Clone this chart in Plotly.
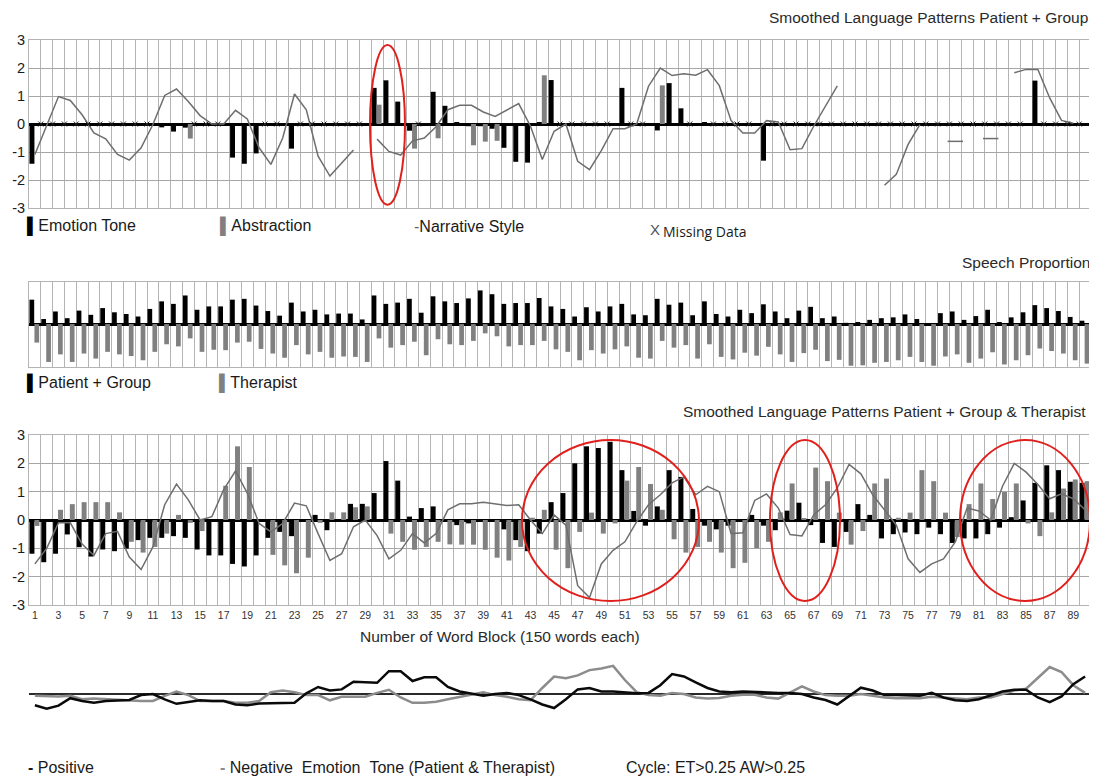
import plotly.graph_objects as go

# ---------------- data ----------------
blocks = list(range(1, 91))
y_ticks = [-3, -2, -1, 0, 1, 2, 3]
x_tick_labels = list(range(1, 90, 2))

# Panel 1: Smoothed Language Patterns Patient + Group
emotion_tone = [
    -1.42, None, None, None, None, None, None, None, None, None,
    None, -0.12, -0.27, -0.13, None, None, None, -1.20, -1.42, -1.05,
    None, None, -0.88, None, None, None, None, None, None, 1.29,
    1.56, 0.80, -0.24, None, 1.15, 0.65, 0.06, -0.08, -0.08, -0.17,
    -0.85, -1.35, -1.38, 0.07, 1.57, None, None, None, None, None,
    1.29, None, None, -0.23, 1.46, 0.56, None, 0.07, None, None,
    None, None, -1.31, None, None, None, None, None, None, None,
    None, None, None, None, None, None, None, None, None, None,
    None, None, None, None, None, 1.55, None, None, None, None,
]
abstraction = [
    None, None, None, None, None, None, None, None, None, None,
    None, None, None, -0.52, None, None, None, None, None, None,
    None, None, None, None, None, None, None, None, None, 0.69,
    None, None, -0.88, None, -0.51, None, None, -0.76, -0.63, -0.60,
    None, None, None, 1.74, None, None, None, None, None, None,
    None, None, None, 1.38, None, None, None, None, None, None,
    None, None, None, None, None, None, None, None, None, None,
    None, None, None, None, None, None, None, None, None, None,
    None, None, None, None, None, None, None, None, None, None,
]
narrative_style = [
    -1.09, -0.05, 0.98, 0.84, 0.33, -0.32, -0.53, -1.09, -1.29, -0.85,
    -0.02, 1.02, 1.25, 0.80, 0.30, 0.00, 0.00, 0.49, 0.18, -0.85,
    -1.44, -0.50, 1.07, 0.51, -1.15, -1.86, -1.38, -0.93, None, -0.54,
    -0.98, -1.11, -0.60, -0.50, -0.10, 0.51, 0.67, 0.67, 0.43, 0.27,
    0.51, 0.73, -0.08, -1.27, -0.26, 0.00, -1.33, -1.63, -0.95, -0.17,
    -0.17, 0.00, 1.35, 2.00, 1.73, 1.79, 1.74, 1.94, 1.37, 0.12,
    -0.32, -0.32, 0.12, 0.07, -0.92, -0.88, -0.08, 0.66, 1.36, None,
    None, None, -2.19, -1.80, -0.73, -0.02, None, None, -0.62, None,
    None, -0.52, None, 1.83, 1.95, 1.95, 0.93, 0.13, 0.03, None,
]

# Panel 2: Speech Proportion
speech_patient = [
    0.58, 0.12, 0.30, 0.14, 0.32, 0.22, 0.38, 0.28, 0.24, 0.18,
    0.36, 0.54, 0.48, 0.68, 0.34, 0.42, 0.42, 0.58, 0.60, 0.44,
    0.31, 0.20, 0.51, 0.30, 0.34, 0.23, 0.25, 0.25, 0.11, 0.68,
    0.48, 0.51, 0.60, 0.27, 0.66, 0.54, 0.50, 0.61, 0.80, 0.71,
    0.48, 0.50, 0.50, 0.62, 0.42, 0.36, 0.18, 0.40, 0.30, 0.42,
    0.48, 0.23, 0.21, 0.60, 0.46, 0.51, 0.21, 0.54, 0.24, 0.18,
    0.34, 0.26, 0.47, 0.30, 0.14, 0.32, 0.41, 0.14, 0.18, 0.03,
    0.05, 0.10, 0.14, 0.16, 0.23, 0.12, 0.02, 0.26, 0.30, 0.10,
    0.19, 0.34, 0.05, 0.16, 0.28, 0.45, 0.38, 0.31, 0.17, 0.08,
]
speech_therapist = [
    0.44, 0.90, 0.72, 0.90, 0.70, 0.82, 0.66, 0.72, 0.76, 0.86,
    0.66, 0.48, 0.53, 0.34, 0.66, 0.61, 0.62, 0.44, 0.42, 0.59,
    0.70, 0.80, 0.50, 0.72, 0.66, 0.80, 0.77, 0.78, 0.90, 0.34,
    0.56, 0.50, 0.42, 0.74, 0.36, 0.48, 0.50, 0.40, 0.22, 0.29,
    0.53, 0.50, 0.50, 0.40, 0.60, 0.66, 0.86, 0.62, 0.70, 0.60,
    0.53, 0.80, 0.82, 0.40, 0.56, 0.50, 0.82, 0.48, 0.78, 0.84,
    0.68, 0.75, 0.54, 0.72, 0.90, 0.69, 0.61, 0.88, 0.85, 0.99,
    0.98, 0.92, 0.90, 0.86, 0.78, 0.90, 0.99, 0.77, 0.72, 0.92,
    0.82, 0.67, 0.96, 0.86, 0.74, 0.58, 0.64, 0.70, 0.86, 0.94,
]

# Panel 3: Smoothed Language Patterns Patient + Group & Therapist
tone_patient = [
    -1.19, -1.49, -1.19, -0.51, -0.96, -1.29, -1.04, -1.10, -1.01, -0.71,
    -0.63, -0.63, -0.57, -0.63, -1.04, -1.25, -1.25, -1.55, -1.64, -1.25,
    -0.63, -0.42, -0.57, None, 0.18, -0.36, None, 0.57, 0.57, 0.95,
    2.08, 1.39, 0.12, 0.42, 0.48, None, -0.18, -0.12, None, None,
    -0.33, -0.71, -1.10, -0.48, 0.63, 0.95, 2.00, 2.60, 2.54, 2.76,
    1.76, 0.32, -0.20, 0.48, 1.76, 1.52, 0.39, -0.20, -0.33, -0.20,
    None, 0.18, -0.20, -0.36, 0.33, 0.61, -0.18, -0.81, -0.95, -0.42,
    0.56, 0.18, -0.65, -0.50, -0.44, -0.50, -0.27, -0.50, -0.81, -0.65,
    -0.65, -0.50, -0.27, 0.10, 0.69, 1.31, 1.93, 1.76, 1.35, 1.31,
]
tone_therapist = [
    -0.21, None, 0.36, 0.56, 0.63, 0.63, 0.63, 0.27, -0.77, -1.15,
    -0.95, -0.48, 0.18, -0.10, -0.39, None, 1.21, 2.60, 1.87, None,
    -1.23, -1.60, -1.88, -1.33, -0.10, 0.27, 0.27, 0.45, 0.48, None,
    -0.48, -0.77, -1.05, -0.95, -0.77, -0.86, -0.87, -0.87, -1.05, -1.33,
    -1.43, -0.95, 0.08, 0.36, -1.05, -1.70, -0.42, 0.26, -0.48, -0.12,
    1.39, 1.87, 1.27, 0.36, -0.68, -1.15, -0.95, -0.77, -1.15, -1.70,
    -1.51, -0.99, -0.77, 0.27, 1.29, 0.04, 1.85, 1.37, 0.26, -0.87,
    -0.39, 1.29, 1.46, 0.08, 0.26, 1.76, 1.37, 0.26, -0.60, 0.56,
    1.29, 0.74, 0.99, 1.29, -0.12, -0.57, 0.27, 1.11, 1.43, 1.37,
]
narrative_both = [
    -1.55, -1.00, -0.10, -0.10, -0.85, -1.25, -0.48, -0.40, -1.31, -1.75,
    -0.95, 0.54, 1.27, 0.71, 0.00, 0.12, 1.07, 1.73, 0.95, -0.12,
    -0.42, -0.12, 0.60, 0.50, -0.48, -1.43, -1.19, -0.24, 0.00, -0.55,
    -1.37, -1.07, -0.48, -0.81, -0.48, 0.36, 0.57, 0.57, 0.63, 0.57,
    0.51, 0.54, 0.00, -0.48, 0.18, -0.18, -2.32, -2.74, -1.55, -1.07,
    -0.77, -0.06, 0.54, 0.89, 1.31, 1.52, 0.89, 1.19, 1.00, -0.48,
    -0.45, 0.69, 0.92, 0.42, -0.51, -0.56, 0.18, 0.54, 1.13, 1.96,
    1.63, 0.89, 0.36, -0.18, -1.37, -1.85, -1.55, -1.37, -0.77, 0.42,
    0.32, 0.00, 1.19, 2.00, 1.69, 1.25, 0.75, 0.92, 0.75, 0.36,
]

# Panel 4: Positive / Negative Emotion Tone (Patient & Therapist)
positive_tone = [
    -1.12, -1.47, -1.16, -0.42, -0.70, -0.88, -0.70, -0.63, -0.60, -0.11,
    0.00, -0.53, -0.98, -0.81, -0.63, -0.70, -0.70, -1.05, -1.12, -0.95,
    -0.95, -0.95, -0.88, 0.07, 0.70, 0.35, 0.46, 1.23, 1.19, 1.12,
    2.28, 2.28, 1.30, 1.68, 1.68, 0.70, 0.25, 0.00, -0.18, 0.00,
    0.11, -0.11, -0.53, -1.05, -1.40, -0.53, 0.46, 0.60, 0.25, 0.25,
    0.18, 0.07, 0.11, 0.88, 2.00, 1.75, 1.16, 0.60, 0.25, 0.18,
    0.25, 0.18, 0.18, 0.11, 0.11, 0.00, -0.35, -0.60, -1.05, -0.18,
    0.63, 0.35, -0.11, -0.11, -0.11, -0.18, 0.11, -0.35, -0.63, -0.70,
    -0.53, -0.11, 0.25, 0.42, 0.42, -0.35, -0.81, -0.25, 0.98, 1.75,
]
negative_tone = [
    -0.18, -0.25, -0.25, -0.18, -0.53, -0.46, -0.53, -0.63, -0.70, -0.70,
    -0.70, -0.18, 0.25, -0.11, -0.70, -0.70, -0.70, -0.88, -0.88, -0.70,
    0.18, 0.35, 0.18, -0.11, -0.11, -0.63, -0.28, -0.28, -0.28, 0.11,
    0.42, -0.35, -0.88, -0.88, -0.77, -0.53, -0.28, 0.00, 0.18, -0.11,
    -0.28, -0.53, -0.63, 0.60, 1.75, 1.58, 1.86, 2.39, 2.56, 2.81,
    1.40, 0.18, -0.11, -0.18, 0.11, 0.00, -0.35, -0.46, -0.39, -0.18,
    -0.07, -0.07, -0.35, -0.46, 0.18, 0.77, 0.25, -0.11, -0.18, -0.18,
    0.00, -0.18, -0.35, -0.42, -0.42, -0.42, -0.28, -0.35, -0.46, -0.53,
    -0.35, -0.35, 0.00, 0.35, 0.53, 1.65, 2.70, 2.20, 0.88, 0.11,
]

# ---------------- layout helpers ----------------
# the page body adds an 8px margin; build the figure so that it lands on the 1097x779 frame
OFF = 8
W, H = 1097 - OFF, 779 - OFF
PLOT_LEFT, PLOT_RIGHT = 29, 1091          # screen pixels of the plotting area
ML = PLOT_LEFT - OFF
MR = W - (PLOT_RIGHT - OFF)
PW = W - ML - MR


def px_x(sx):
    return (sx - OFF - ML) / PW


def px_y(sy):
    return 1 - (sy - OFF) / H


def bx(sx):  # screen pixel -> block coordinate
    return (sx - PLOT_LEFT) / (PLOT_RIGHT - PLOT_LEFT) * 90 + 0.5


FONT = "Liberation Sans, Arial, sans-serif"
GRID = "#b4b4b4"
GRID_H = "#a6a6a6"
BLACK = "#000000"
GRAY_BAR = "#808080"
LINE_GRAY = "#6e6e6e"

fig = go.Figure()

# ---- panel 1
fig.add_trace(go.Bar(x=blocks, y=emotion_tone, name="Emotion Tone", marker=dict(color=BLACK, line=dict(width=0)),
                     offset=-0.46, width=0.42, xaxis="x", yaxis="y"))
fig.add_trace(go.Bar(x=blocks, y=abstraction, name="Abstraction", marker=dict(color=GRAY_BAR, line=dict(width=0)),
                     offset=-0.04, width=0.42, xaxis="x", yaxis="y"))
fig.add_trace(go.Scatter(x=blocks, y=narrative_style, name="Narrative Style", mode="lines",
                         line=dict(color=LINE_GRAY, width=1.5), connectgaps=False, xaxis="x", yaxis="y"))
iso_x, iso_y = [], []
for i, v in enumerate(narrative_style):
    prev_v = narrative_style[i - 1] if i > 0 else None
    next_v = narrative_style[i + 1] if i < len(narrative_style) - 1 else None
    if v is not None and prev_v is None and next_v is None:
        iso_x.append(blocks[i])
        iso_y.append(v)
fig.add_trace(go.Scatter(x=iso_x, y=iso_y, mode="markers", showlegend=False,
                         marker=dict(symbol="line-ew", size=11, line=dict(width=1.5, color=LINE_GRAY)),
                         xaxis="x", yaxis="y"))
missing = [b for b, e, a in zip(blocks, emotion_tone, abstraction) if e is None and a is None]
fig.add_trace(go.Scatter(x=[b - 0.5 for b in missing], y=[0] * len(missing), mode="markers", name="Missing Data",
                         marker=dict(symbol="x-thin", size=5, line=dict(width=1, color="#222")),
                         xaxis="x", yaxis="y"))

# ---- panel 2
fig.add_trace(go.Bar(x=blocks, y=speech_patient, name="Patient + Group", marker=dict(color=BLACK, line=dict(width=0)),
                     offset=-0.46, width=0.40, xaxis="x2", yaxis="y2"))
fig.add_trace(go.Bar(x=blocks, y=[-v for v in speech_therapist], name="Therapist",
                     marker=dict(color=GRAY_BAR, line=dict(width=0)),
                     offset=-0.04, width=0.40, xaxis="x2", yaxis="y2"))

# ---- panel 3
fig.add_trace(go.Bar(x=blocks, y=tone_patient, name="Patient + Group", marker=dict(color=BLACK, line=dict(width=0)),
                     offset=-0.46, width=0.42, xaxis="x3", yaxis="y3"))
fig.add_trace(go.Bar(x=blocks, y=tone_therapist, name="Therapist", marker=dict(color=GRAY_BAR, line=dict(width=0)),
                     offset=-0.04, width=0.42, xaxis="x3", yaxis="y3"))
fig.add_trace(go.Scatter(x=blocks, y=narrative_both, mode="lines", name="Narrative Style",
                         line=dict(color=LINE_GRAY, width=1.5), xaxis="x3", yaxis="y3"))

# ---- panel 4
fig.add_trace(go.Scatter(x=blocks, y=negative_tone, mode="lines", name="Negative",
                         line=dict(color="#8c8c8c", width=2.5), xaxis="x4", yaxis="y4"))
fig.add_trace(go.Scatter(x=blocks, y=positive_tone, mode="lines", name="Positive",
                         line=dict(color="#0a0a0a", width=2.5), xaxis="x4", yaxis="y4"))

boundaries = [b - 0.5 for b in blocks] + [blocks[-1] + 0.5]
xr = [0.5, 90.5]

grid_x = dict(range=xr, domain=[0, 1], tickmode="array", tickvals=boundaries, showticklabels=False, ticks="",
              showgrid=True, gridcolor=GRID, gridwidth=1, zeroline=False, showline=True, mirror=True,
              linecolor=GRID, linewidth=1, fixedrange=True, automargin=False)


def panel_y(top_px, bottom_px):
    return [px_y(bottom_px), px_y(top_px)]


yaxis_common = dict(range=[-3, 3], tickmode="array", tickvals=y_ticks, ticktext=[str(v) for v in y_ticks],
                    showgrid=True, gridcolor=GRID_H,
                    gridwidth=1, zeroline=True, zerolinecolor=BLACK, zerolinewidth=2.5, showline=True,
                    mirror=True, linecolor=GRID, ticks="", ticklabelstandoff=0, automargin=False,
                    tickfont=dict(family=FONT, size=14.5, color="#1a1a1a"))

fig.update_layout(
    width=W, height=H,
    margin=dict(l=ML, r=MR, t=0, b=0, autoexpand=False),
    paper_bgcolor="white", plot_bgcolor="white",
    barmode="overlay", showlegend=False,
    font=dict(family=FONT, color="#1a1a1a"),
    xaxis=dict(grid_x, anchor="y"),
    yaxis=dict(yaxis_common, domain=panel_y(40, 208)),
    xaxis2=dict(grid_x, anchor="y2"),
    yaxis2=dict(range=[-1.02, 1.0], domain=panel_y(282, 367), showgrid=False, zeroline=True,
                zerolinecolor=BLACK, zerolinewidth=2.5, showline=True, mirror=True, linecolor=GRID,
                showticklabels=False, ticks="", automargin=False),
    xaxis3=dict(range=xr, domain=[0, 1], anchor="y3", tickmode="array", tickvals=x_tick_labels,
                showticklabels=True, ticks="", showgrid=False, zeroline=False, showline=True, mirror=True,
                linecolor=GRID, tickfont=dict(family=FONT, size=10.5, color="#333"), automargin=False,
                minor=dict(tickmode="linear", tick0=0.5, dtick=1, showgrid=True, gridcolor=GRID, gridwidth=1,
                           ticks="")),
    yaxis3=dict(yaxis_common, domain=panel_y(435, 605)),
    xaxis4=dict(range=xr, domain=[0, 1], anchor="y4", showgrid=False, showticklabels=False, ticks="",
                zeroline=False, showline=False, automargin=False),
    yaxis4=dict(range=[-3, 4], domain=panel_y(654, 724), showgrid=False, showticklabels=False, ticks="",
                zeroline=True, zerolinecolor="#2a2a2a", zerolinewidth=1.5, showline=False, automargin=False),
)

# red ellipses (highlighted cycles)
ellipses = [
    ("x", "y", bx(370), bx(405), 2.82, -2.88),
    ("x3", "y3", bx(522), bx(699), 2.82, -2.86),
    ("x3", "y3", bx(770), bx(840), 2.82, -2.86),
    ("x3", "y3", bx(960), bx(1090), 2.82, -2.86),
]
for xref, yref, x0, x1, y0, y1 in ellipses:
    fig.add_shape(type="circle", xref=xref, yref=yref, x0=x0, x1=x1, y0=y1, y1=y0,
                  line=dict(color="#e0201c", width=2), layer="above")


def ann(text, sx, sy, anchor="left", size=16, color="#1a1a1a", family=FONT):
    fig.add_annotation(text=text, x=px_x(sx), y=px_y(sy), xref="paper", yref="paper", xanchor=anchor,
                       yanchor="middle", showarrow=False, font=dict(family=family, size=size, color=color))


NB = "\u00a0"
# titles
ann("Smoothed Language Patterns Patient + Group", 1090, 18, anchor="right", size=15.5, color="#2a2a2a")
ann("Speech Proportion", 1092, 263, anchor="right", size=15.5, color="#2a2a2a")
ann("Smoothed Language Patterns Patient + Group &amp; Therapist", 1088, 411, anchor="right", size=15.5,
    color="#2a2a2a")
ann("Number of Word Block (150 words each)", 500, 636, anchor="center", size=15.5, color="#2a2a2a")

# legend row 1
ann('<span style="color:#000">▌</span>Emotion Tone', 25, 226)
ann('<span style="color:#808080">▌</span>Abstraction', 218, 226)
ann('<span style="color:#666">-</span>Narrative Style', 412, 226)
ann('X', 648, 230, size=15, color="#555")
ann('Missing Data', 661, 231, size=14, family="Open Sans, sans-serif")

# legend row 2
ann('<span style="color:#000">▌</span>Patient + Group', 25, 383)
ann('<span style="color:#808080">▌</span>Therapist', 217, 383)

# legend row 3
ann('<b>-</b> Positive', 26, 767)
ann('<span style="color:#8c8c8c"><b>-</b></span> Negative' + NB * 2 + 'Emotion' + NB * 2 +
    'Tone (Patient &amp; Therapist)', 218, 767)
ann('Cycle: ET&gt;0.25 AW&gt;0.25', 624, 767)

fig.write_html("out.html")
